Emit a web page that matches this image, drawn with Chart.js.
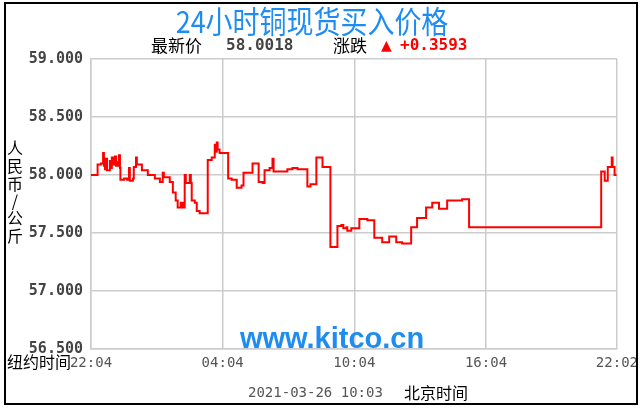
<!DOCTYPE html>
<html>
<head>
<meta charset="utf-8">
<script src="https://cdn.jsdelivr.net/npm/chart.js@4"></script>
<style>
html,body{margin:0;padding:0;background:#fff;}
#wrap{width:644px;height:409px;position:relative;}
</style>
</head>
<body>
<div id="wrap"><canvas id="c" width="644" height="409"></canvas></div>
<script>
// hours elapsed since 22:04 (New York time)
const times = [0,0.30,0.45,0.55,0.59,0.64,0.68,0.73,0.82,0.86,0.91,0.95,1.00,1.09,1.14,1.23,1.27,1.32,1.34,1.50,1.64,1.73,1.77,1.91,1.95,2.05,2.09,2.32,2.59,2.91,3.14,3.27,3.32,3.59,3.73,3.86,3.95,4.09,4.18,4.27,4.32,4.41,4.50,4.55,4.59,4.73,4.82,4.95,5.23,5.32,5.50,5.64,5.68,5.73,5.77,5.86,6.23,6.25,6.41,6.64,6.86,6.95,7.23,7.36,7.59,7.64,7.82,7.91,8.14,8.27,8.32,8.95,9.18,9.41,9.86,10.00,10.27,10.55,10.91,11.23,11.41,11.50,11.64,11.68,11.86,12.23,12.59,12.91,13.27,13.59,13.91,14.18,14.59,14.86,15.27,15.55,15.86,16.23,16.91,17.23,23.23,23.25,23.41,23.55,23.73,23.77,23.86,23.95];
// copper spot buy price, CNY per kg
const prices = [58.00,58.09,58.10,58.19,58.08,58.05,58.14,58.04,58.04,58.12,58.06,58.15,58.09,58.16,58.08,58.11,58.17,58.06,57.96,57.97,57.96,58.06,57.95,57.97,58.07,58.15,58.09,58.04,58.00,57.97,57.94,58.02,57.98,57.94,57.85,57.78,57.72,57.76,57.72,58.00,57.93,57.93,58.00,57.93,57.78,57.76,57.69,57.67,57.67,58.13,58.15,58.26,58.20,58.28,58.22,58.19,58.19,57.97,57.96,57.89,57.91,58.02,58.02,58.10,58.10,57.94,57.93,58.04,58.06,58.14,58.03,58.05,58.06,58.05,57.90,57.92,58.15,58.07,57.38,57.56,57.57,57.54,57.55,57.52,57.54,57.62,57.61,57.46,57.42,57.47,57.42,57.41,57.55,57.63,57.72,57.76,57.71,57.78,57.79,57.55,57.55,58.03,57.95,58.07,58.15,58.07,58.00,58.00];

const xTickPos = [0, 6, 12, 18, 23.967];
const xTickLabels = ['22:04', '04:04', '10:04', '16:04', '22:02'];
const yTickVals = [56.5, 57.0, 57.5, 58.0, 58.5, 59.0];
const yTickLabels = ['56.500', '57.000', '57.500', '58.000', '58.500', '59.000'];

const titleText = '24小时铜现货买入价格';
const latestLabel = '最新价';
const latestValue = '58.0018';
const changeLabel = '涨跌';
const changeValue = '+0.3593';
const yTitle = ['人', '民', '币', '/', '公', '斤'];
const nyLabel = '纽约时间';
const dateText = '2021-03-26 10:03';
const bjLabel = '北京时间';
const watermark = 'www.kitco.cn';

const CJK = '"Noto Sans CJK SC", "Noto Sans", sans-serif';
const MONO = '"DejaVu Sans Mono", "Liberation Mono", monospace';

const decor = {
  id: 'decor',
  beforeDatasetsDraw(chart) {
    const ctx = chart.ctx;
    ctx.save();
    ctx.fillStyle = '#1e8cf0';
    ctx.font = 'bold 29px "Liberation Sans", Arial, sans-serif';
    ctx.textAlign = 'center';
    ctx.textBaseline = 'middle';
    ctx.fillText(watermark, 332, 340);
    ctx.restore();
  },
  afterDraw(chart) {
    const ctx = chart.ctx;
    ctx.save();
    ctx.textBaseline = 'middle';
    // title (slightly condensed)
    ctx.save();
    ctx.fillStyle = '#1e8cf0';
    ctx.font = '29px ' + CJK;
    ctx.textAlign = 'center';
    ctx.translate(312, 21);
    ctx.scale(0.93, 1.05);
    ctx.fillText(titleText, 0, 0);
    ctx.restore();
    // subtitle
    ctx.textAlign = 'left';
    ctx.fillStyle = '#000';
    ctx.font = '17px ' + CJK;
    ctx.fillText(latestLabel, 151, 46);
    ctx.fillText(changeLabel, 333, 46);
    ctx.fillStyle = '#444';
    ctx.font = 'bold 16px ' + MONO;
    ctx.fillText(latestValue, 226, 46);
    ctx.fillStyle = '#ff0000';
    ctx.font = '14px "DejaVu Sans", sans-serif';
    ctx.fillText('▲', 381, 46);
    ctx.font = 'bold 16px ' + MONO;
    ctx.fillText(changeValue, 400, 46);
    // y title stacked
    ctx.fillStyle = '#000';
    ctx.font = '16px ' + CJK;
    ctx.textAlign = 'center';
    const ys = [148, 166, 184, 201, 218, 236];
    yTitle.forEach((ch, i) => ctx.fillText(ch, 15, ys[i]));
    // bottom labels
    ctx.textAlign = 'left';
    ctx.font = '16px ' + CJK;
    ctx.fillText(nyLabel, 7, 362);
    ctx.fillText(bjLabel, 404, 393);
    ctx.fillStyle = '#555';
    ctx.font = '14px ' + MONO;
    ctx.fillText(dateText, 248, 393);
    // outer frame
    ctx.strokeStyle = '#000';
    ctx.lineWidth = 2;
    ctx.strokeRect(5, 3, 632, 401);
    ctx.restore();
  }
};

const grid = '#cccccc';
new Chart(document.getElementById('c'), {
  type: 'line',
  data: {
    datasets: [{
      data: times.map((t, i) => ({ x: t, y: prices[i] })),
      borderColor: '#ff0000',
      borderWidth: 2,
      pointRadius: 0,
      stepped: true,
      fill: false
    }]
  },
  options: {
    responsive: false,
    animation: false,
    events: [],
    layout: { padding: { left: 0, top: 59, right: 26, bottom: 0 } },
    plugins: { legend: { display: false }, title: { display: false }, tooltip: { enabled: false } },
    scales: {
      x: {
        type: 'linear',
        min: 0,
        max: 23.967,
        afterFit(s) { s.height = 60; },
        afterBuildTicks(s) { s.ticks = xTickPos.map(v => ({ value: v })); },
        grid: { color: grid, lineWidth: 1.5, drawTicks: false },
        border: { color: grid, width: 1.5 },
        ticks: {
          padding: 6,
          maxRotation: 0,
          autoSkip: false,
          color: '#555',
          font: { family: MONO, size: 14 },
          callback: (v, i) => xTickLabels[i]
        }
      },
      y: {
        min: 56.5,
        max: 59,
        afterFit(s) { s.width = 91; },
        afterBuildTicks(s) { s.ticks = yTickVals.map(v => ({ value: v })); },
        grid: { color: grid, lineWidth: 1.5, drawTicks: false },
        border: { color: grid, width: 1.5 },
        ticks: {
          padding: 8,
          color: '#444',
          font: { family: MONO, size: 15, weight: 'bold' },
          callback: (v, i) => yTickLabels[i]
        }
      }
    }
  },
  plugins: [decor]
});
</script>
</body>
</html>
